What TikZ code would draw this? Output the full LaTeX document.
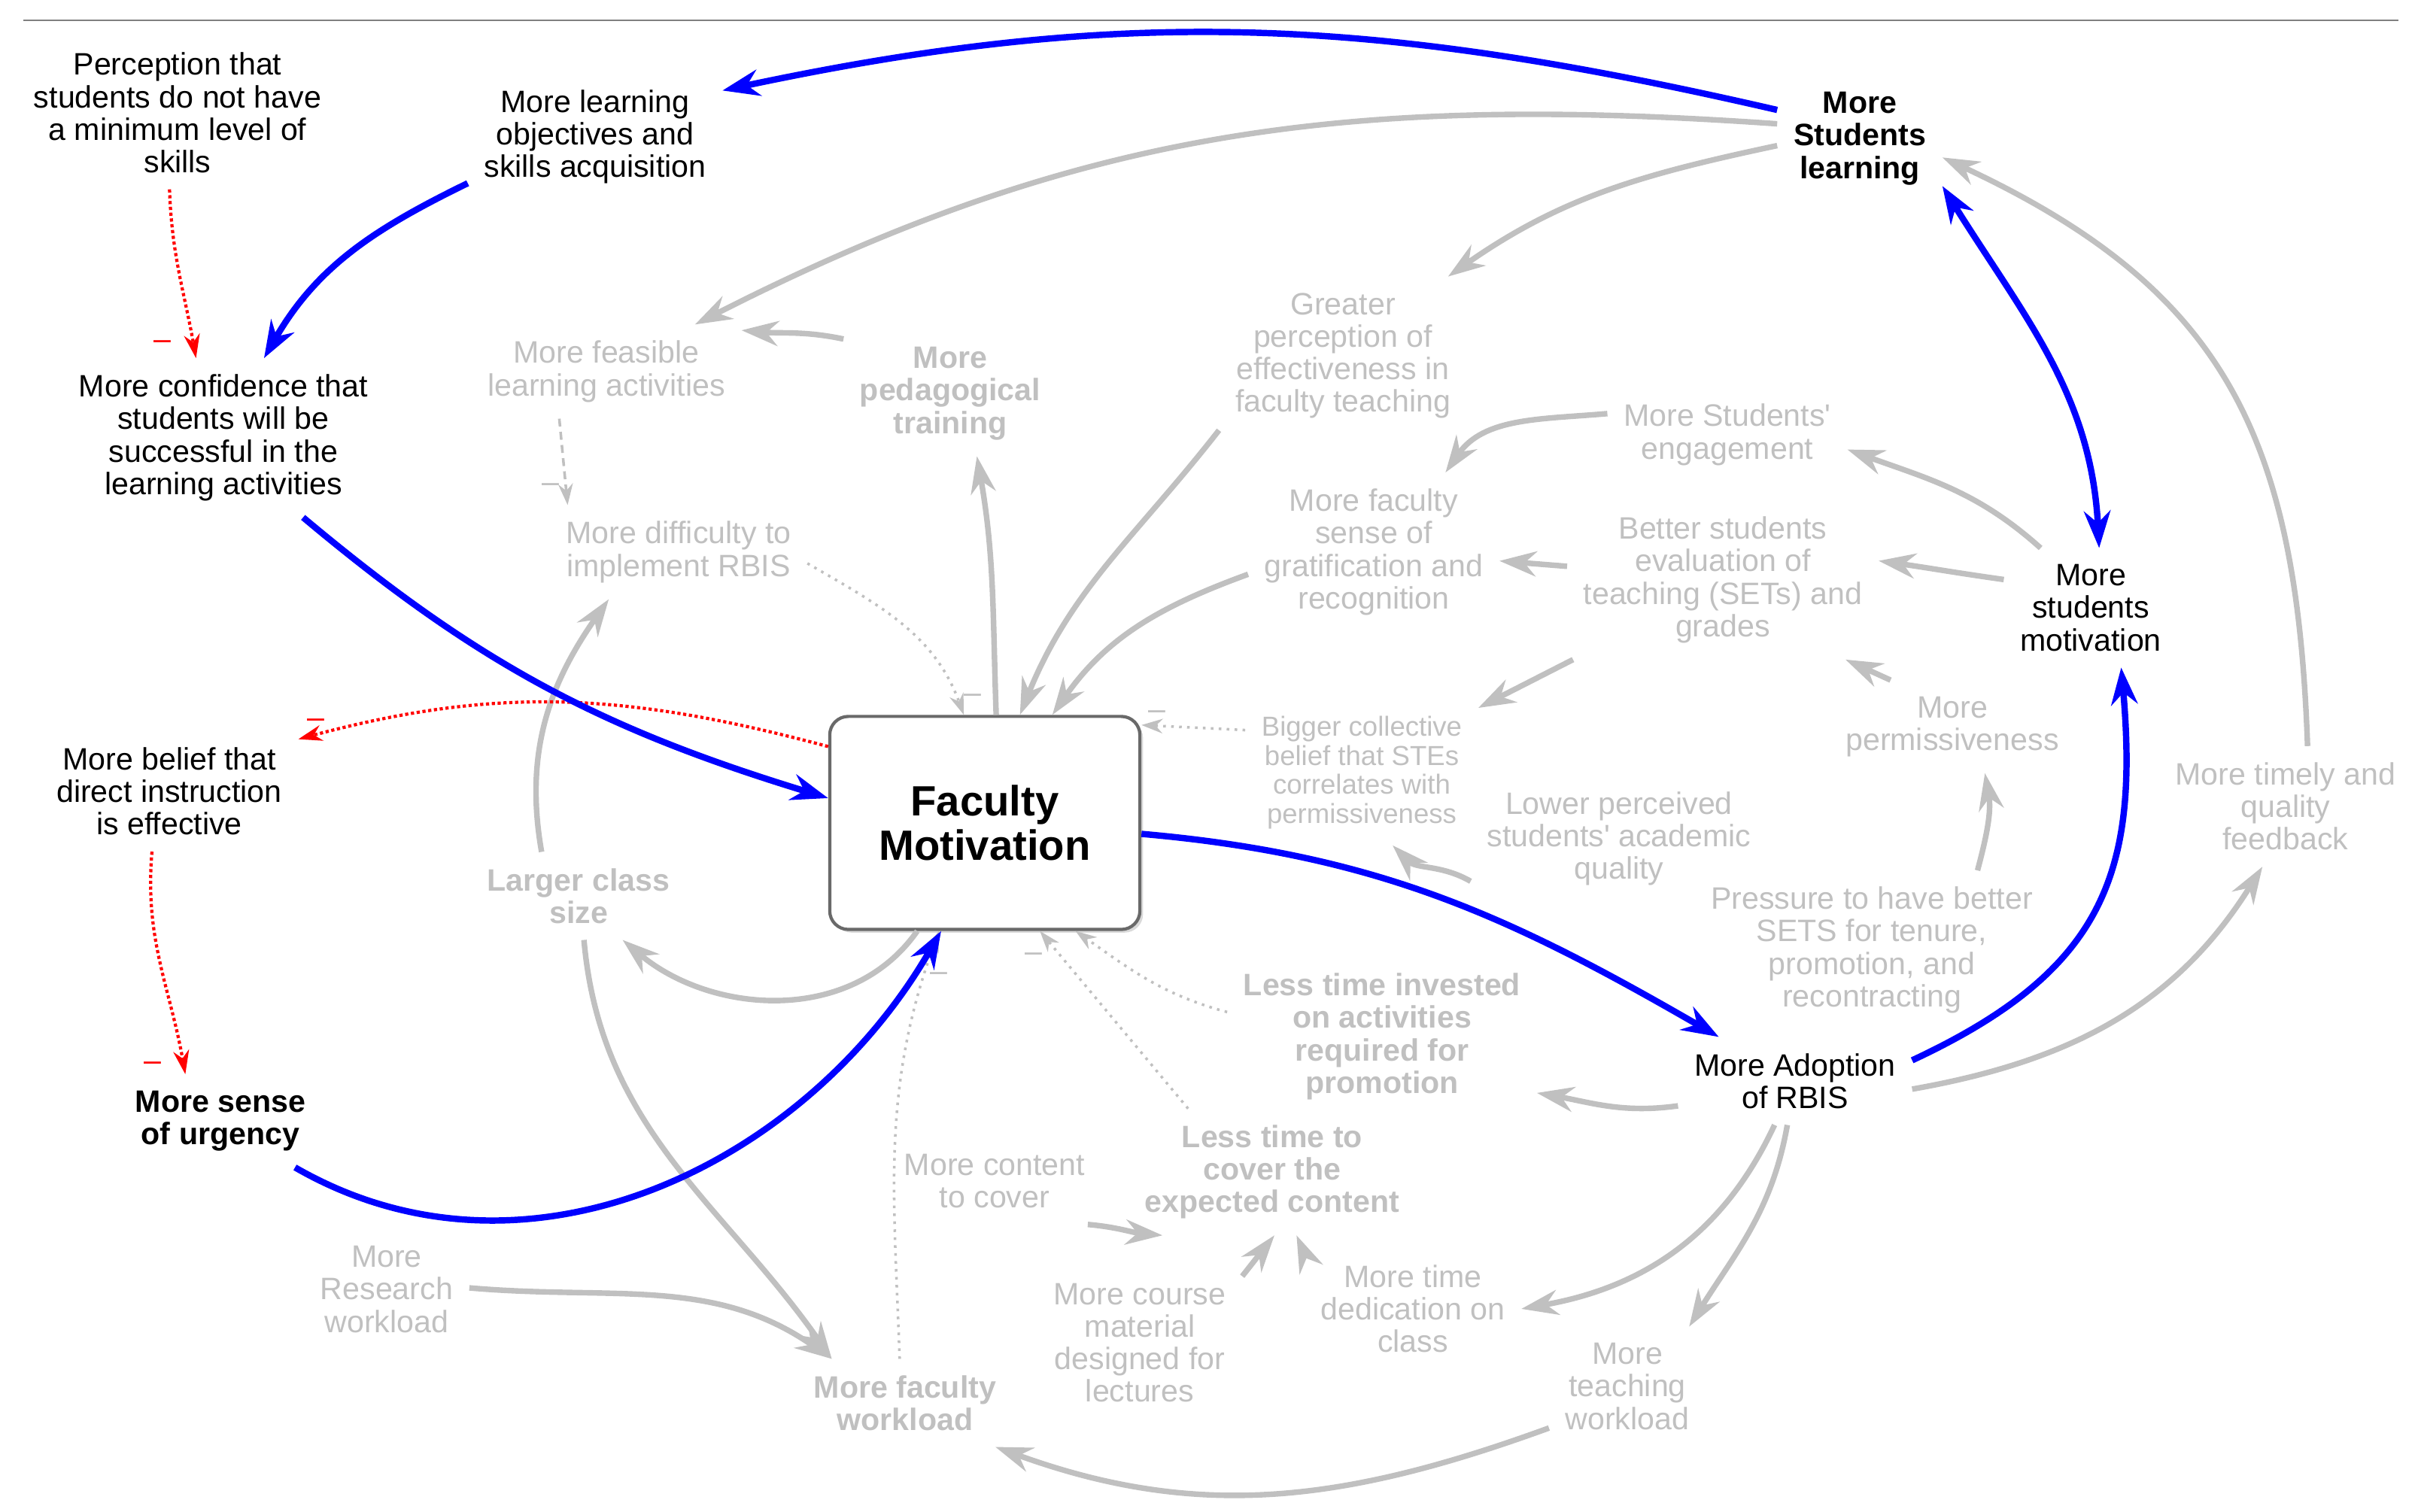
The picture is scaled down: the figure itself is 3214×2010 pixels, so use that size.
\documentclass[tikz,border=0pt]{standalone}
\usepackage{fontspec}
\setmainfont{Liberation Sans}
\usetikzlibrary{arrows.meta, shadows}

\definecolor{lgray}{RGB}{192,192,192}
\definecolor{ablue}{RGB}{0,0,255}
\definecolor{ared}{RGB}{255,0,0}
\definecolor{boxgray}{RGB}{105,105,105}
\definecolor{rulegray}{RGB}{128,128,128}

\newcommand\lbl{\fontsize{11.7}{12.3}\selectfont}
\newcommand\smlbl{\fontsize{10.4}{11}\selectfont}

\begin{document}
\begin{tikzpicture}[x=0.01cm, y=0.01cm,
    every node/.style={align=center, inner sep=6pt, font=\lbl},
    blk/.style={text=black},
    gry/.style={text=lgray},
    grb/.style={text=lgray, font=\lbl\bfseries},
    fmbox/.style={draw=boxgray, line width=1.2pt, rounded corners=7pt, fill=white,
        minimum width=4.12cm, minimum height=2.83cm, font=\fontsize{16}{17}\selectfont\bfseries,
        drop shadow={shadow xshift=1.2pt, shadow yshift=-1.2pt, opacity=0.3}},
    blu/.style={draw=ablue, line width=2.4pt, -{Stealth[length=14pt, width=10pt]}},
    bitips/.style={arrows={Stealth[length=14pt, width=10pt]-Stealth[length=14pt, width=10pt]}},
    gar/.style={draw=lgray, line width=2.1pt, -{Stealth[length=14pt, width=9.5pt]}},
    gdot/.style={draw=lgray, line width=1pt, dotted, -{Stealth[length=8pt, width=5.5pt]}},
    gdash/.style={draw=lgray, line width=1pt, densely dashed, -{Stealth[length=8pt, width=5.5pt]}},
    rdot/.style={draw=ared, line width=1.2pt, densely dotted, -{Stealth[length=9pt, width=6pt]}},
    glab/.style={inner sep=2pt, text=lgray},
    rlab/.style={inner sep=2pt, text=ared}
]
\useasboundingbox (0,0) rectangle (3214,2010);
\draw[rulegray, line width=0.8pt] (31,1983) -- (3188,1983);

% variables
\node[blk] (perc) at (236,1860) {Perception that\\students do not have\\a minimum level of\\skills};
\node[blk] (lobj) at (791,1828) {More learning\\objectives and\\skills acquisition};
\node[blk, font=\lbl\bfseries] (slearn) at (2472,1826) {More\\Students\\learning};
\node[blk] (conf) at (297,1428) {More confidence that\\students will be\\successful in the\\learning activities};
\node[gry] (feas) at (806,1516) {More feasible\\learning activities};
\node[grb] (ped) at (1263,1487) {More\\pedagogical\\training};
\node[gry] (greater) at (1785,1537) {Greater\\perception of\\effectiveness in\\faculty teaching};
\node[gry] (engage) at (2296,1432) {More Students\textquotesingle\\engagement};
\node[gry] (grat) at (1826,1276) {More faculty\\sense of\\gratification and\\recognition};
\node[gry] (sets) at (2290,1239) {Better students\\evaluation of\\teaching (SETs) and\\grades};
\node[blk] (smot) at (2779,1202) {More\\students\\motivation};
\node[gry] (diff) at (902,1276) {More difficulty to\\implement RBIS};
\node[blk] (belief) at (225,958) {More belief that\\direct instruction\\is effective};
\node[fmbox] (fm) at (1309,916) {Faculty\\Motivation};
\node[gry, font=\smlbl] (bigger) at (1810,983) {Bigger collective\\belief that STEs\\correlates with\\permissiveness};
\node[gry] (perm) at (2595,1044) {More\\permissiveness};
\node[gry] (lower) at (2152,895) {Lower perceived\\students\textquotesingle\ academic\\quality};
\node[gry] (feedback) at (3038,938) {More timely and\\quality\\feedback};
\node[grb] (larger) at (769,819) {Larger class\\size};
\node[gry] (pressure) at (2488,747) {Pressure to have better\\SETS for tenure,\\promotion, and\\recontracting};
\node[grb] (lessinv) at (1837,632) {Less time invested\\on activities\\required for\\promotion};
\node[blk] (adopt) at (2386,573) {More Adoption\\of RBIS};
\node[blk, font=\lbl\bfseries] (urgency) at (293,520) {More sense\\of urgency};
\node[gry] (content) at (1322,440) {More content\\to cover};
\node[grb] (lesstime) at (1691,452) {Less time to\\cover the\\expected content};
\node[gry] (research) at (514,296) {More\\Research\\workload};
\node[gry] (course) at (1515,225) {More course\\material\\designed for\\lectures};
\node[gry] (dedic) at (1878,270) {More time\\dedication on\\class};
\node[gry] (teach) at (2163,167) {More\\teaching\\workload};
\node[grb] (fwork) at (1203,145) {More faculty\\workload};

% gray links
\path (slearn.170) edge[gar, out=176, in=27] (feas.28);
\path (slearn.185) edge[gar, out=192, in=35] (greater.37);
\path (feedback.70) edge[gar, out=92, in=-25, looseness=1.15] (slearn.-13);
\path (ped.153) edge[gar, out=168, in=-5] (feas.17);
\path (fm.84) edge[gar, out=92, in=-80] (ped.-67);
\path (greater.211) edge[gar, out=232, in=68] (fm.72);
\path (grat.190) edge[gar, out=200, in=55] (fm.58);
\path (engage.170) edge[gar, out=185, in=55] (grat.48);
\path (sets.175) edge[gar] (grat.-4);
\path (smot.130) edge[gar, out=138, in=-20] (engage.-7);
\path (smot.162) edge[gar, out=172, in=-8] (sets.7);
\path (sets.208) edge[gar] (bigger.29);
\path (perm.143) edge[gar] (sets.-33);
\path (pressure.37) edge[gar, out=75, in=-80] (perm.-55);
\path (lower.196) edge[gar, out=150, in=-45] (bigger.-67);
\path (adopt.-4) edge[gar, out=10, in=238] (feedback.249);
\path (adopt.192) edge[gar, out=188, in=-10] (lessinv.-20);
\path (adopt.245) edge[gar, out=245, in=10] (dedic.0);
\path (adopt.260) edge[gar, out=260, in=58] (teach.44);
\path (teach.208) edge[gar, out=200, in=-20] (fwork.-26);
\path (fm.238) edge[gar, out=235, in=-40] (larger.-45);
\path (larger.130) edge[gar, out=100, in=235] (diff.214);
\path (larger.-83) edge[gar, out=-85, in=125] (fwork.149);
\path (research.1) edge[gar, out=-5, in=145] (fwork.149);
\path (content.-25) edge[gar, out=-5, in=175] (lesstime.-150);
\path (course.33) edge[gar] (lesstime.-88);
\path (dedic.153) edge[gar] (lesstime.-69);

% dotted links
\path (feas.225) edge[gdash] node[pos=.8, left, glab] {\textendash} (diff.157);
\path (diff.-5) edge[gdot, out=-30, in=110] node[pos=.93, right, glab] {\textendash} (fm.101);
\path (bigger.160) edge[gdot] node[pos=.85, above, glab] {\textendash} (fm.32);
\path (fwork.97) edge[gdot, out=92, in=250] node[pos=.9, right, glab] {\textendash} (fm.247);
\path (lesstime.143) edge[gdot] node[pos=.85, left=5pt, glab] {\textendash} (fm.-63);
\path (lessinv.171) edge[gdot, out=165, in=-35] (fm.-50);

% red links
\path (perc.-96) edge[rdot, out=-88, in=100] node[pos=.93, left=6pt, rlab] {\textendash} (conf.109);
\path (fm.154) edge[rdot, out=165, in=15] node[pos=.97, above, rlab] {\textendash} (belief.22);
\path (belief.254) edge[rdot, out=265, in=100] node[pos=.97, left=6pt, rlab] {\textendash} (urgency.127);

% blue loop
\path (slearn.161) edge[blu, out=167, in=12] (lobj.20);
\path (lobj.200) edge[blu, out=206, in=60] (conf.63);
\path (conf.-45) edge[blu, out=-40, in=163] (fm.171);
\path (urgency.-32) edge[blu, out=-30, in=240] (fm.-112);
\path (fm.-4) edge[blu, out=-5, in=150] (adopt.150);
\path (adopt.10) edge[blu, out=25, in=-85, looseness=1.2] (smot.-63);
\path (smot.82) edge[blu, bitips, out=93, in=-58] (slearn.-30);
\end{tikzpicture}
\end{document}
